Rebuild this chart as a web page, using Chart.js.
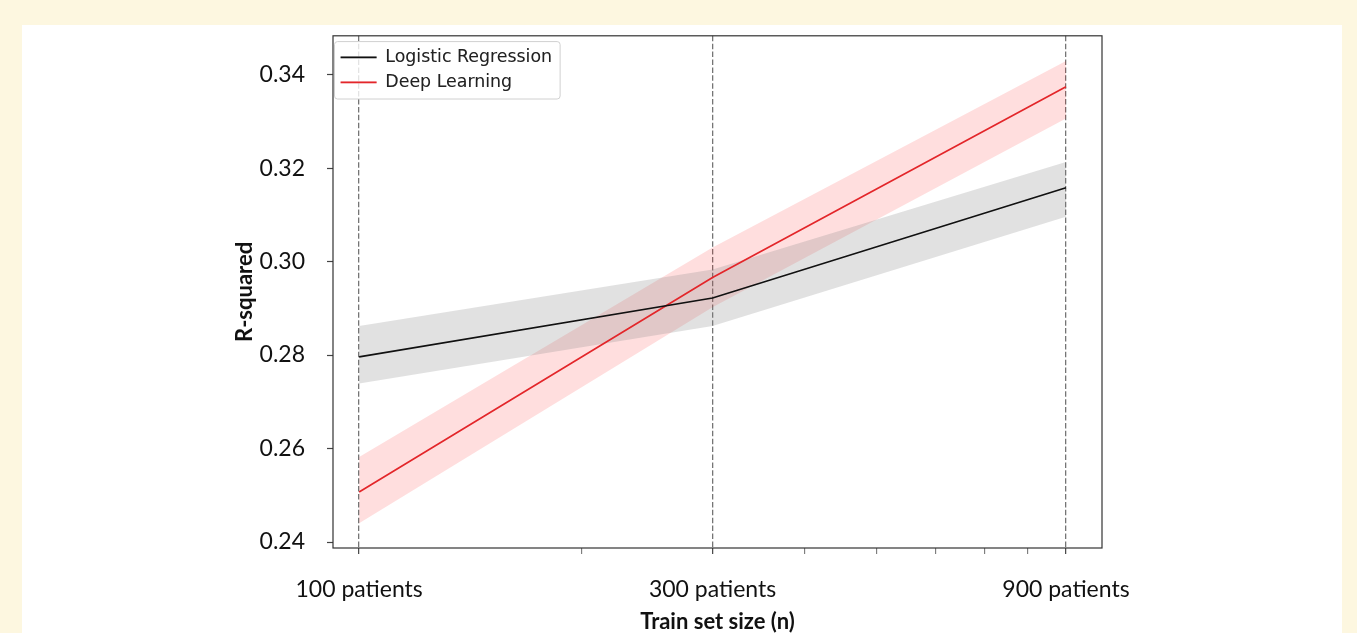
<!DOCTYPE html>
<html>
<head>
<meta charset="utf-8">
<title>R-squared by train set size</title>
<script src="https://cdn.jsdelivr.net/npm/chart.js@4.4.1/dist/chart.umd.min.js"></script>
<style>
  body { margin: 0; background: #fdf7e0; }
  .panel { position: absolute; left: 22px; top: 25px; width: 1320px; height: 608px; background: #fff; }
  .wrap { position: absolute; left: 0; top: 0; width: 1357px; height: 633px; }
</style>
</head>
<body>
<div class="panel"></div>
<div class="wrap"><canvas id="chart"></canvas></div>

<script>
  // train set sizes (log x axis) and their labels
  const trainSizes = [100, 300, 900];
  const sizeLabels = ['100 patients', '300 patients', '900 patients'];
  const xTicks = [100, 200, 300, 400, 500, 600, 700, 800, 900];
  const yTicks = [0.24, 0.26, 0.28, 0.30, 0.32, 0.34];

  // R-squared, mean and band edges
  const lrMean  = [0.2796, 0.2922, 0.3158];
  const lrUpper = [0.2862, 0.2983, 0.3213];
  const lrLower = [0.2739, 0.2862, 0.3096];
  const dlMean  = [0.2507, 0.2966, 0.3374];
  const dlUpper = [0.2582, 0.3030, 0.3429];
  const dlLower = [0.2440, 0.2902, 0.3306];

  const pts = arr => trainSizes.map((x, i) => ({ x: x, y: arr[i] }));
  const isMajor = v => trainSizes.includes(v);

  const band = (data, color, fill) => ({
    data: pts(data), borderWidth: 0, pointRadius: 0, backgroundColor: color, fill: fill, tension: 0
  });

  // plot frame + matplotlib-like legend box
  const framePlugin = {
    id: 'frame',
    afterDatasetsDraw(chart) {
      const ctx = chart.ctx, a = chart.chartArea, lg = chart.legend;
      const hb = lg.legendHitBoxes;
      if (hb && hb.length) {
        const left = a.left + 1.5;
        const top = hb[0].top - 7;
        const right = Math.max(...hb.map(h => h.left + h.width)) + 8;
        const bottom = hb[hb.length - 1].top + hb[hb.length - 1].height + 8;
        ctx.save();
        ctx.beginPath();
        ctx.roundRect(left, top, right - left, bottom - top, 3);
        ctx.fillStyle = 'rgba(255,255,255,0.8)';
        ctx.fill();
        ctx.strokeStyle = '#d0d0d0';
        ctx.lineWidth = 1;
        ctx.stroke();
        ctx.restore();
        lg.draw();
      }
      ctx.save();
      ctx.strokeStyle = '#333';
      ctx.lineWidth = 1.2;
      ctx.strokeRect(a.left, a.top, a.width, a.height);
      ctx.restore();
    }
  };

  new Chart(document.getElementById('chart'), {
    type: 'line',
    data: {
      datasets: [
        { label: 'Logistic Regression', data: pts(lrMean), borderColor: '#111', borderWidth: 1.7,
          pointRadius: 0, fill: false, tension: 0 },
        { label: 'Deep Learning', data: pts(dlMean), borderColor: '#e3262a', borderWidth: 1.7,
          pointRadius: 0, fill: false, tension: 0 },
        band(lrUpper, 'rgba(128,128,128,0.24)', '+1'),
        band(lrLower, 'rgba(0,0,0,0)', false),
        band(dlUpper, 'rgba(255,0,0,0.13)', '+1'),
        band(dlLower, 'rgba(0,0,0,0)', false)
      ]
    },
    options: {
      responsive: true,
      maintainAspectRatio: false,
      animation: false,
      events: [],
      layout: { padding: { left: 228, top: 33, right: 255, bottom: 0 } },
      plugins: {
        tooltip: { enabled: false },
        legend: {
          position: 'chartArea',
          align: 'start',
          // empty title used as a spacer to push the entries down from the top
          title: { display: true, text: '', padding: { top: 39.8, bottom: 0 }, font: { size: 1 } },
          labels: {
            filter: item => item.datasetIndex < 2,
            usePointStyle: true,
            pointStyle: 'line',
            pointStyleWidth: 36,
            padding: 7.6,
            color: '#222',
            font: { family: 'DejaVu Sans', size: 17.4 }
          }
        }
      },
      scales: {
        x: {
          type: 'logarithmic',
          min: 92.2,
          max: 1006.7,
          afterBuildTicks: s => { s.ticks = xTicks.map(v => ({ value: v, major: isMajor(v) })); },
          afterFit: s => { s.height = 85; },
          border: { display: false, dash: ctx => isMajor(ctx.tick && ctx.tick.value) ? [5.5, 2.4] : [] },
          grid: {
            color: ctx => isMajor(ctx.tick && ctx.tick.value) ? 'rgba(110,110,110,0.95)' : 'rgba(0,0,0,0)',
            lineWidth: 1.3,
            tickColor: '#444',
            tickLength: 6,
            tickWidth: ctx => isMajor(ctx.tick && ctx.tick.value) ? 1.2 : 0.8
          },
          ticks: {
            autoSkip: false,
            maxRotation: 0,
            padding: 22,
            color: '#111',
            font: { family: 'Lato', size: 23 },
            callback: v => isMajor(v) ? sizeLabels[trainSizes.indexOf(v)] : ''
          },
          title: {
            display: true,
            text: 'Train set size (n)',
            color: '#111',
            padding: 0,
            font: { family: 'Lato', size: 22, weight: 'bold', lineHeight: 1.0 }
          }
        },
        y: {
          min: 0.23872,
          max: 0.3483,
          afterBuildTicks: s => { s.ticks = yTicks.map(v => ({ value: v })); },
          afterFit: s => { s.width = 333 - 228; },
          border: { display: false },
          grid: { drawOnChartArea: false, tickColor: '#444', tickLength: 6, tickWidth: 1.2 },
          ticks: {
            padding: 22,
            color: '#111',
            font: { family: 'Lato', size: 23 },
            callback: v => v.toFixed(2)
          },
          title: {
            display: true,
            text: 'R-squared',
            color: '#111',
            padding: { top: 4, bottom: 4 },
            font: { family: 'Lato', size: 22, weight: 'bold' }
          }
        }
      }
    },
    plugins: [framePlugin]
  });
</script>
</body>
</html>
